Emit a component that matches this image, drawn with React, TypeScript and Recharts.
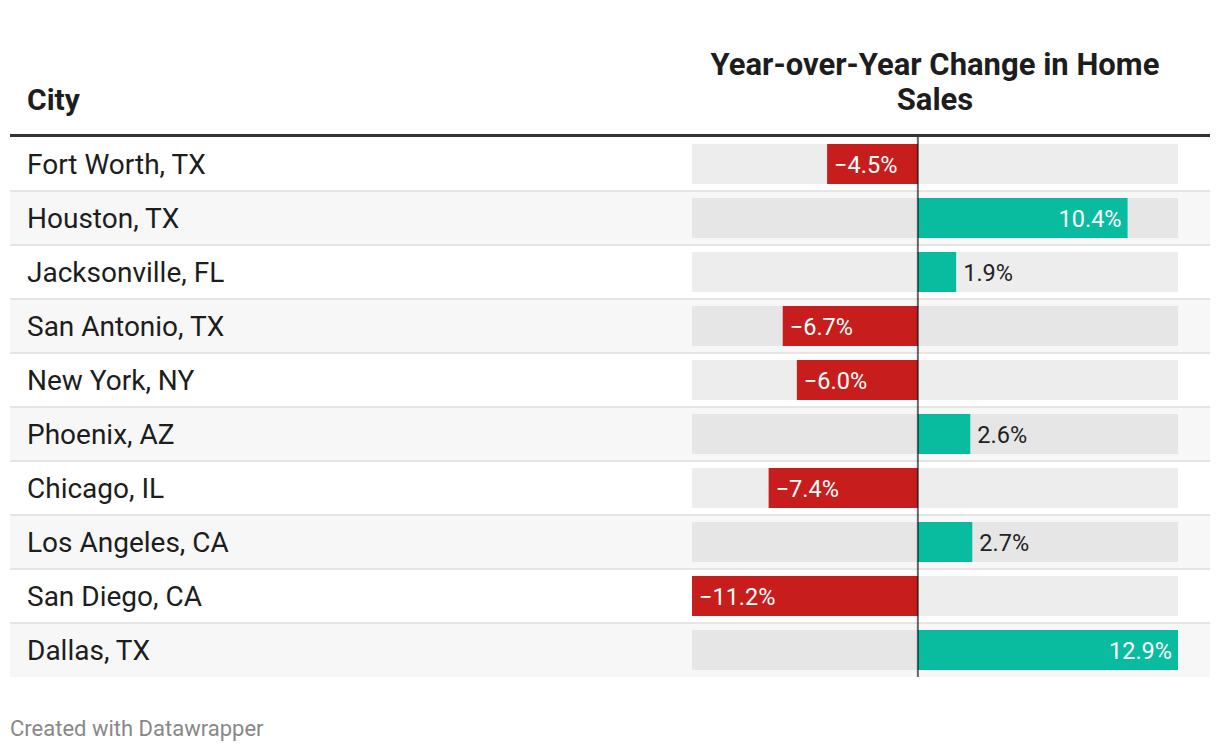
import React from 'react';
import { BarChart, Bar, XAxis, YAxis, ReferenceLine, LabelList, Cell } from 'recharts';

const cities = [
  'Fort Worth, TX',
  'Houston, TX',
  'Jacksonville, FL',
  'San Antonio, TX',
  'New York, NY',
  'Phoenix, AZ',
  'Chicago, IL',
  'Los Angeles, CA',
  'San Diego, CA',
  'Dallas, TX',
];
const yoyChange = [-4.5, 10.4, 1.9, -6.7, -6.0, 2.6, -7.4, 2.7, -11.2, 12.9];
const valueDomain = [-11.2, 12.9];

const data = cities.map((city, i) => ({ city, change: yoyChange[i] }));

const RED = '#c71e1d';
const TEAL = '#09bca0';
const FONT = 'Roboto, sans-serif';

const fmt = (v: number) => (v < 0 ? '\u2212' : '') + Math.abs(v).toFixed(1) + '%';

// row stripe + separator + grey track behind each bar
const RowBackground = (props: any) => {
  const { x, y, width, height, index } = props;
  const odd = index % 2 === 1;
  return (
    <g>
      <rect x={10} y={y - 7} width={1200} height={54} fill={odd ? '#f7f7f7' : '#ffffff'} />
      {index > 0 && <rect x={10} y={y - 8} width={1200} height={2} fill="#e5e5e5" />}
      <rect x={x} y={y} width={width} height={height} fill={odd ? '#e6e6e6' : '#ededed'} />
    </g>
  );
};

const CityTick = (props: any) => {
  const { y, payload } = props;
  return (
    <text x={27} y={y} dy={10} fontSize={28} fontFamily={FONT} fill="#1d1d1d" textAnchor="start">
      {payload.value}
    </text>
  );
};

const ValueLabel = (props: any) => {
  const { x, y, width, height, value } = props;
  const left = Math.min(x, x + width);
  const right = Math.max(x, x + width);
  const cy = y + height / 2 + 8.5;
  const inside = Math.abs(value) >= 4;
  if (value < 0) {
    return (
      <text x={left + 7} y={cy} fontSize={23.5} fontFamily={FONT} fill="#ffffff" textAnchor="start">
        {fmt(value)}
      </text>
    );
  }
  return inside ? (
    <text x={right - 6} y={cy} fontSize={23.5} fontFamily={FONT} fill="#ffffff" textAnchor="end">
      {fmt(value)}
    </text>
  ) : (
    <text x={right + 7} y={cy} fontSize={23.5} fontFamily={FONT} fill="#222222" textAnchor="start">
      {fmt(value)}
    </text>
  );
};

export default function App() {
  return (
    <div style={{ position: 'absolute', left: 0, top: 0, width: 1220, height: 752, background: '#fff', fontFamily: FONT }}>
      <BarChart
        width={1220}
        height={752}
        data={data}
        layout="vertical"
        margin={{ top: 137, right: 42, bottom: 75, left: 10 }}
      >
        <XAxis type="number" domain={valueDomain} hide />
        <YAxis
          type="category"
          dataKey="city"
          width={682}
          axisLine={false}
          tickLine={false}
          tick={<CityTick />}
          interval={0}
        />
        <Bar dataKey="change" barSize={40} background={RowBackground} isAnimationActive={false}>
          {data.map((d, i) => (
            <Cell key={i} fill={d.change < 0 ? RED : TEAL} />
          ))}
          <LabelList dataKey="change" content={<ValueLabel />} />
        </Bar>
        <ReferenceLine x={0} stroke="#000" strokeOpacity={0.6} strokeWidth={2} />
      </BarChart>

      <div style={{ position: 'absolute', left: 27, top: 82, fontSize: 30, lineHeight: '35px', fontWeight: 700, color: '#1d1d1d' }}>
        City
      </div>
      <div
        style={{
          position: 'absolute',
          left: 692,
          top: 47,
          width: 486,
          textAlign: 'center',
          fontSize: 31,
          lineHeight: '35px',
          fontWeight: 700,
          color: '#1d1d1d',
        }}
      >
        Year-over-Year Change in Home Sales
      </div>
      <div style={{ position: 'absolute', left: 10, top: 134, width: 1200, height: 3, background: '#333' }} />
      <div style={{ position: 'absolute', left: 10, top: 716, fontSize: 22, lineHeight: '26px', color: '#888' }}>
        Created with Datawrapper
      </div>
    </div>
  );
}
